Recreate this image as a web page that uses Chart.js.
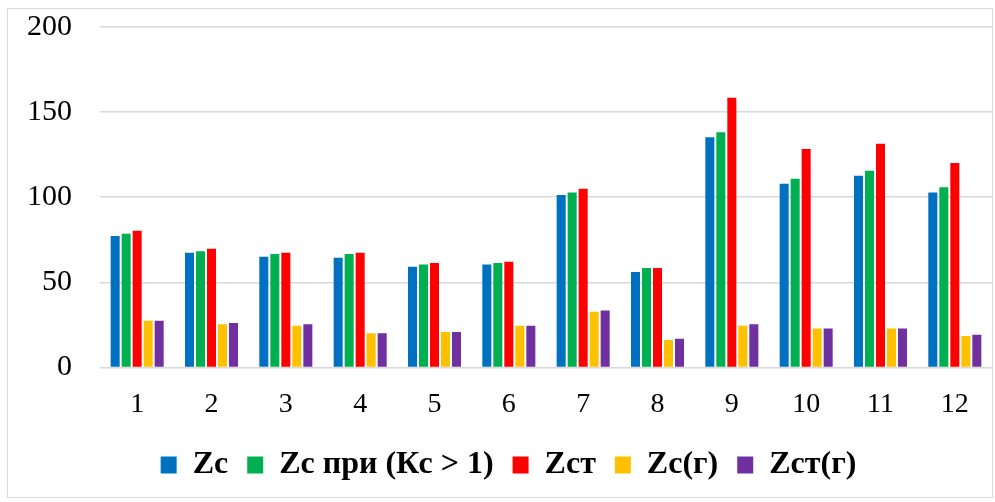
<!DOCTYPE html>
<html>
<head>
<meta charset="utf-8">
<script src="https://cdn.jsdelivr.net/npm/chart.js@4"></script>
<style>
  html, body { margin: 0; padding: 0; background: #fff; }
  #wrap { position: relative; width: 995px; height: 502px; }
  #frame { position: absolute; left: 7px; top: 8px; width: 986px; height: 490px; border: 1px solid #d9d9d9; box-sizing: border-box; pointer-events: none; }
  canvas { position: absolute; left: 0; top: 0; }
</style>
</head>
<body>
<div id="wrap">
  <canvas id="c" width="995" height="502"></canvas>
  <div id="frame"></div>
</div>
<script>
const categories = ['1','2','3','4','5','6','7','8','9','10','11','12'];
const seriesNames = ['Zc', 'Zc при (Кс > 1)', 'Zст', 'Zc(г)', 'Zст(г)'];
const zc      = [77.2, 67.4, 65.0, 64.4, 59.2, 60.5, 101.3, 56.0, 135.2, 107.9, 112.6, 102.8];
const zcKc    = [78.5, 68.2, 66.6, 66.6, 60.5, 61.3, 102.8, 58.4, 138.1, 110.9, 115.6, 105.8];
const zst     = [80.3, 69.7, 67.4, 67.4, 61.3, 62.1, 105.0, 58.4, 158.5, 128.3, 131.4, 120.1];
const zcG     = [27.4, 25.3, 24.5, 20.0, 20.8, 24.5, 32.7, 16.1, 24.5, 22.9, 22.9, 18.4];
const zstG    = [27.4, 26.1, 25.3, 20.0, 20.8, 24.5, 33.5, 16.8, 25.3, 22.9, 22.9, 19.2];
const yTicks  = [0, 50, 100, 150, 200];
const colors  = ['#0070C0', '#00B050', '#FF0000', '#FFC000', '#7030A0'];

const seriesValues = [zc, zcKc, zst, zcG, zstG];
const datasets = seriesNames.map((name, i) => ({
  label: name,
  data: seriesValues[i],
  backgroundColor: colors[i],
  borderWidth: 0,
  categoryPercentage: 0.74,
  barPercentage: 0.82
}));

const serif = '"Liberation Serif", "Times New Roman", serif';

const legendShift = {
  id: 'legendShift',
  afterLayout(chart) {
    const lg = chart.legend;
    if (!lg) return;
    lg.left += 13; lg.right += 13;
    lg.top += 3; lg.bottom += 3;
  }
};

new Chart(document.getElementById('c'), {
  type: 'bar',
  data: { labels: categories, datasets },
  plugins: [legendShift],
  options: {
    responsive: false,
    animation: false,
    layout: { padding: { left: -1, right: 3, top: 27, bottom: 14 } },
    plugins: {
      tooltip: { enabled: false },
      legend: {
        position: 'bottom',
        labels: {
          color: '#000',
          font: { family: serif, size: 32, weight: 'bold' },
          boxWidth: 16,
          boxHeight: 17,
          padding: 19
        }
      }
    },
    scales: {
      x: {
        grid: { display: false },
        border: { display: false },
        ticks: {
          color: '#000',
          font: { family: serif, size: 28 },
          padding: 12
        },
        afterFit: (scale) => { scale.height -= 6; }
      },
      y: {
        min: 0, max: 200,
        afterBuildTicks: (axis) => { axis.ticks = yTicks.map(v => ({ value: v })); },
        afterFit: (scale) => { scale.paddingTop = 0; scale.paddingBottom = 0; },
        grid: { color: '#d9d9d9', lineWidth: 1.5, drawTicks: false },
        border: { display: false },
        ticks: {
          color: '#000',
          font: { family: serif, size: 30 },
          padding: 28
        }
      }
    }
  }
});
</script>
</body>
</html>
